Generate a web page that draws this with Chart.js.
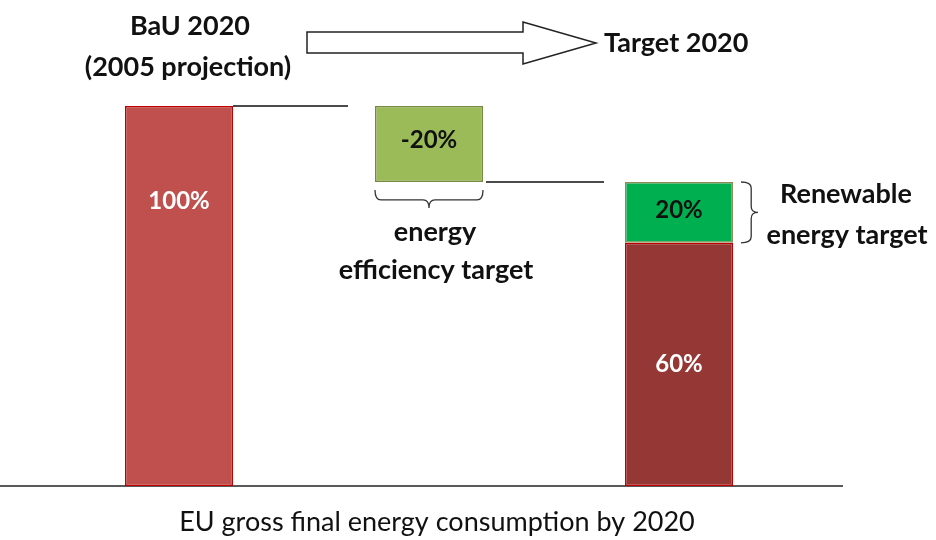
<!DOCTYPE html>
<html>
<head>
<meta charset="utf-8">
<script src="https://cdn.jsdelivr.net/npm/chart.js@4.4.1/dist/chart.umd.min.js"></script>
<style>
  body { margin: 0; background: #fff; }
  #wrap { width: 936px; height: 540px; position: relative; }
</style>
</head>
<body>
<div id="wrap"><canvas id="chart1"></canvas></div>
<script>
// categories and bar ranges (floating bars, % of BaU 2020)
const categories = ['BaU 2020', 'Efficiency', 'Target 2020'];
const bauRange = [0, 100];
const efficiencyRange = [80, 100];
const fossilRange = [0, 64];
const renewableRange = [64, 80];
const barLabels = ['100%', '-20%', '60%', '20%'];

const FONT = 'Lato, "Open Sans", sans-serif';

function brace(ctx, x1, y1, x2, y2, depth, vertical) {
  // curly brace between two points, bulging by depth
  ctx.beginPath();
  if (!vertical) {
    const m = (x1 + x2) / 2, y = y1;
    ctx.moveTo(x1, y);
    ctx.quadraticCurveTo(x1, y + depth * 0.55, x1 + 6, y + depth * 0.55);
    ctx.lineTo(m - 6, y + depth * 0.55);
    ctx.quadraticCurveTo(m, y + depth * 0.55, m, y + depth);
    ctx.quadraticCurveTo(m, y + depth * 0.55, m + 6, y + depth * 0.55);
    ctx.lineTo(x2 - 6, y + depth * 0.55);
    ctx.quadraticCurveTo(x2, y + depth * 0.55, x2, y);
  } else {
    const m = (y1 + y2) / 2, x = x1;
    ctx.moveTo(x, y1);
    ctx.quadraticCurveTo(x + depth * 0.6, y1, x + depth * 0.6, y1 + 6);
    ctx.lineTo(x + depth * 0.6, m - 6);
    ctx.quadraticCurveTo(x + depth * 0.6, m, x + depth, m);
    ctx.quadraticCurveTo(x + depth * 0.6, m, x + depth * 0.6, m + 6);
    ctx.lineTo(x + depth * 0.6, y2 - 6);
    ctx.quadraticCurveTo(x + depth * 0.6, y2, x, y2);
  }
  ctx.stroke();
}

const baseline = {
  id: 'baseline',
  beforeDatasetsDraw(chart) {
    const ctx = chart.ctx, y = chart.scales.y.getPixelForValue(0);
    ctx.save();
    ctx.strokeStyle = '#222';
    ctx.lineWidth = 1.5;
    ctx.beginPath();
    ctx.moveTo(0, y);
    ctx.lineTo(chart.chartArea.right + 39, y);
    ctx.stroke();
    ctx.restore();
  }
};

const annotations = {
  id: 'annotations',
  afterDatasetsDraw(chart) {
    const ctx = chart.ctx;
    const ys = chart.scales.y;
    const b0 = chart.getDatasetMeta(0).data[0];
    const b1 = chart.getDatasetMeta(1).data[1];
    const b2 = chart.getDatasetMeta(2).data[2];
    const b3 = chart.getDatasetMeta(3).data[2];
    ctx.save();

    // connector lines
    ctx.strokeStyle = '#111';
    ctx.lineWidth = 1.3;
    ctx.beginPath();
    ctx.moveTo(b0.x + b0.width / 2, ys.getPixelForValue(bauRange[1]));
    ctx.lineTo(b1.x - b1.width / 2 - 27, ys.getPixelForValue(bauRange[1]));
    ctx.moveTo(b1.x + b1.width / 2 + 3, ys.getPixelForValue(efficiencyRange[0]));
    ctx.lineTo(b3.x - b3.width / 2 - 21, ys.getPixelForValue(efficiencyRange[0]));
    ctx.stroke();

    // bar value labels
    ctx.textAlign = 'center';
    ctx.textBaseline = 'middle';
    ctx.font = 'bold 24px ' + FONT;
    ctx.fillStyle = '#fff';
    ctx.fillText(barLabels[0], b0.x, ys.getPixelForValue(75));
    ctx.fillText(barLabels[2], b2.x, (b2.y + b2.base) / 2);
    ctx.fillStyle = '#111';
    ctx.fillText(barLabels[1], b1.x, (b1.y + b1.base) / 2 - 4);
    ctx.fillText(barLabels[3], b3.x, (b3.y + b3.base) / 2 - 2);

    // braces
    ctx.strokeStyle = '#333';
    ctx.lineWidth = 1.3;
    const effBottom = ys.getPixelForValue(efficiencyRange[0]);
    brace(ctx, b1.x - b1.width / 2, effBottom + 8, b1.x + b1.width / 2, 0, 18, false);
    brace(ctx, b3.x + b3.width / 2 + 8, b3.y, 0, b3.base, 17, true);

    // arrow
    ctx.lineWidth = 1.5;
    ctx.strokeStyle = '#222';
    ctx.fillStyle = '#fff';
    ctx.beginPath();
    ctx.moveTo(307, 32);
    ctx.lineTo(523, 32);
    ctx.lineTo(523, 22);
    ctx.lineTo(596, 43);
    ctx.lineTo(523, 64);
    ctx.lineTo(523, 53);
    ctx.lineTo(307, 53);
    ctx.closePath();
    ctx.fill();
    ctx.stroke();

    // texts
    ctx.fillStyle = '#111';
    ctx.font = 'bold 27px ' + FONT;
    ctx.textAlign = 'center';
    ctx.fillText(categories[0], b0.x + 11, 26);
    ctx.fillText('(2005 projection)', b0.x + 9, 67);
    ctx.textAlign = 'left';
    ctx.fillText(categories[2], 604, 43);
    ctx.textAlign = 'center';
    ctx.fillText('energy', b1.x + 6, 232);
    ctx.fillText('efficiency target', b1.x + 7, 270);
    ctx.fillText('Renewable', 846, 194);
    ctx.fillText('energy target', 847, 235);
    ctx.font = '27px ' + FONT;
    ctx.fillText('EU gross final energy consumption by 2020', 437, 522);
    ctx.restore();
  }
};

const common = { grouped: false, borderSkipped: false, borderWidth: 1.5, categoryPercentage: 1, barPercentage: 0.432 };

new Chart(document.getElementById('chart1'), {
  type: 'bar',
  data: {
    labels: categories,
    datasets: [
      { ...common, label: 'BaU', data: [bauRange, null, null], backgroundColor: '#C0504D', borderColor: '#C00000' },
      { ...common, label: 'Efficiency', data: [null, efficiencyRange, null], backgroundColor: '#9BBB59', borderColor: '#77893F' },
      { ...common, label: 'Fossil', data: [null, null, fossilRange], backgroundColor: '#953735', borderColor: '#C00000' },
      { ...common, label: 'Renewable', data: [null, null, renewableRange], backgroundColor: '#00B050', borderColor: '#8C8C5A' }
    ]
  },
  options: {
    responsive: true,
    maintainAspectRatio: false,
    animation: false,
    layout: { padding: { left: 54, right: 132, top: 106, bottom: 54 } },
    plugins: { legend: { display: false }, tooltip: { enabled: false } },
    scales: {
      x: { display: false },
      y: { display: false, min: 0, max: 100 }
    }
  },
  plugins: [baseline, annotations]
});
</script>
</body>
</html>
